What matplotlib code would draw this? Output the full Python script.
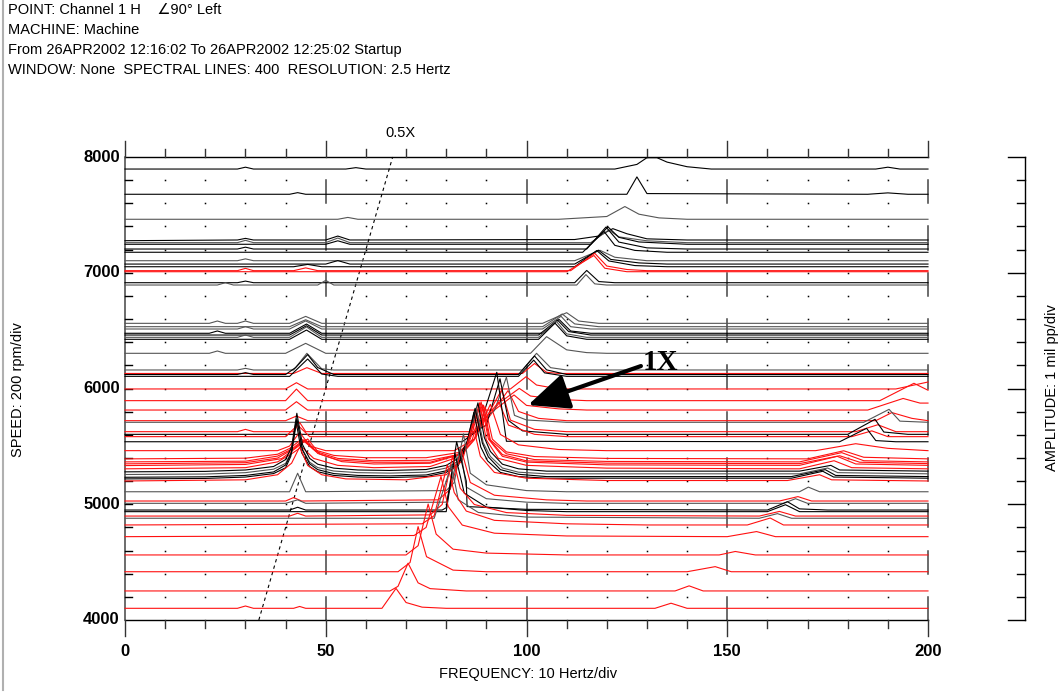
import matplotlib.pyplot as plt
import numpy as np

speeds = [7896, 7678, 7462, 7277, 7260, 7246, 7205, 7177, 7104, 7075, 7052, 7018, 7009,
          6914, 6894, 6563, 6534, 6514, 6477, 6462, 6442, 6425, 6304, 6160, 6130, 6121, 6105,
          5996, 5895, 5814, 5722, 5708, 5627, 5604, 5584, 5540, 5463,
          5382, 5356, 5339, 5324, 5296, 5276, 5253, 5229, 5215, 5195,
          5108, 5028, 5008, 4950, 4936, 4898, 4879, 4821, 4720, 4562, 4417, 4251, 4101]

colors = ['k', 'k', 'g', 'k', 'g', 'k', 'k', 'k', 'g', 'k', 'k', 'r', 'r',
          'k', 'g', 'g', 'g', 'g', 'k', 'k', 'g', 'k', 'g', 'g', 'r', 'k', 'k',
          'r', 'r', 'r', 'r', 'g', 'r', 'k', 'r', 'k', 'r',
          'r', 'r', 'r', 'r', 'r', 'k', 'g', 'k', 'k', 'r',
          'g', 'r', 'g', 'k', 'k', 'r', 'g', 'r', 'r', 'r', 'r', 'r', 'r']

spectra = [
    [(28, 0), (30, 0.08), (32, 0), (55, 0), (57.5, 0.06), (60, 0), (122, 0), (127.5, 0.2), (130, 0.49),
     (132.5, 0.49), (135, 0.3), (140, 0.1), (146, 0), (187, 0), (190, 0.08), (193, 0)],
    [(41, 0), (43, 0.07), (45, 0), (125, 0), (127.5, 0.75), (130, 0.03), (185, 0), (190, 0.06), (195, 0)],
    [(53, 0), (55.5, 0.08), (58, 0), (108, 0), (113, 0.05), (120, 0.12), (124.5, 0.55), (128, 0.22),
     (133, 0.06), (140, 0)],
    [(28, 0.03), (30, 0.1), (32, 0.03), (50, 0.03), (53, 0.2), (56, 0.03), (112, 0.05), (118, 0.2),
     (121.5, 0.52), (125, 0.3), (130, 0.08), (140, 0.03), (200, 0.03)],
    [(28, 0), (30, 0.1), (32, 0), (50, 0), (53, 0.2), (56, 0), (116, 0), (120.5, 0.55), (123, 0.25),
     (130, 0.08), (140, 0)],
    [(50, 0), (53, 0.15), (56, 0), (116, 0), (120.3, 0.75), (123, 0.3), (128, 0.1), (140, 0)],
    [(28, 0), (30, 0.08), (32, 0), (115, 0), (119.8, 0.95), (123, 0.3), (130, 0.05), (140, 0)],
    [(114, 0), (119.3, 0.9), (122, 0.3), (127, 0.08), (135, 0)],
    [(28, 0), (30, 0.08), (32, 0), (112, 0), (118.3, 0.45), (122, 0.15), (130, 0)],
    [(50, 0), (53, 0.15), (56, 0), (112, 0), (117.9, 0.6), (121, 0.2), (128, 0.05), (135, 0)],
    [(42, 0), (45.5, 0.1), (49, 0), (112, 0), (117.5, 0.7), (120.5, 0.25), (127, 0.05), (135, 0)],
    [(28, 0), (30, 0.1), (32, 0), (42, 0), (45, 0.12), (48, 0), (111, 0), (117, 0.75), (120, 0.2),
     (125, 0.05), (130, 0)],
    [(110, 0), (116.8, 0.7), (119.5, 0.15), (125, 0)],
    [(28, 0), (30, 0.07), (32, 0), (112, 0), (115, 0.53), (118, 0.05), (122, 0)],
    [(23, 0), (25, 0.1), (27, 0), (48, 0), (50, 0.2), (52, 0), (112.5, 0), (114.8, 0.45), (117, 0.05),
     (120, 0)],
    [(21, 0), (23, 0.1), (25, 0), (28, 0), (30, 0.1), (32, 0), (41, 0), (45, 0.3), (49, 0), (104, 0),
     (110, 0.46), (113, 0.1), (118, 0)],
    [(41, 0), (45, 0.3), (49, 0), (104, 0), (108.9, 0.55), (112, 0.12), (118, 0)],
    [(28, 0), (30, 0.1), (32, 0), (41, 0), (45, 0.35), (49, 0), (104, 0), (108.6, 0.55), (111, 0.1), (116, 0)],
    [(21, 0), (23, 0.1), (25, 0), (41, 0), (45.2, 0.4), (49, 0), (104, 0), (108.1, 0.6), (111, 0.1), (116, 0)],
    [(41, 0), (45.2, 0.4), (49, 0), (103, 0), (107.7, 0.65), (110.5, 0.15), (116, 0)],
    [(28, 0), (30, 0.1), (32, 0), (41, 0), (45.2, 0.45), (49, 0), (103, 0), (107.4, 0.7), (110, 0.15), (115, 0)],
    [(41, 0), (45.2, 0.4), (49, 0), (103, 0), (107.1, 0.7), (110, 0.15), (115, 0)],
    [(21, 0), (23, 0.1), (25, 0), (40, 0), (45, 0.43), (50, 0), (101, 0), (105, 0.72), (110, 0.15),
     (115, 0.03), (120, 0)],
    [(28, 0), (30, 0.07), (32, 0), (42, 0), (45.3, 0.72), (49, 0.05), (52, 0), (99, 0), (102.5, 0.72),
     (106, 0.1), (110, 0)],
    [(42, 0), (45.3, 0.25), (49, 0), (99, 0), (102, 0.43), (105, 0.05), (108, 0)],
    [(28, 0), (30, 0.08), (32, 0), (40, 0), (42.5, 0.3), (45.5, 0.86), (48, 0.3), (52, 0), (98, 0),
     (102, 0.8), (105, 0.2), (110, 0)],
    [(41, 0), (45.5, 0.75), (49, 0.1), (53, 0), (98, 0), (101.8, 0.7), (104.5, 0.15), (110, 0)],
    [(40, 0), (42.7, 0.27), (45.5, 0), (96, 0), (99.9, 0.53), (102.5, 0.17), (108, 0), (192, 0), (200, 0.3)],
    [(40, 0), (42.7, 0.5), (45.5, 0), (94, 0), (98.2, 0.53), (101, 0.2), (108, 0.05), (115, 0), (188, 0),
     (196.5, 0.75), (200, 0.45)],
    [(40, 0), (42.7, 0.36), (45.5, 0), (92, 0), (96.9, 0.65), (100, 0.2), (108, 0.05), (115, 0), (185, 0),
     (193.8, 0.5), (198, 0.3), (200, 0.3)],
    [(40, 0), (42.7, 0.2), (45.5, 0), (90, 0), (95.4, 1.3), (98, 0.4), (103, 0.1), (110, 0), (187, 0),
     (191, 0.35), (196, 0.1), (200, 0)],
    [(88, 0), (92, 0.5), (95, 1.95), (97, 0.3), (100, 0.1), (110, 0), (184, 0), (190.3, 0.56), (193, 0.05),
     (200, 0)],
    [(28, 0), (30, 0.1), (32, 0), (42, 0), (43.5, 0.4), (45, 0), (88, 0), (93.8, 1.8), (96, 0.5), (102, 0.1),
     (110, 0), (182, 0), (187.5, 0.3), (192, 0)],
    [(86, 0), (90, 0.4), (93.4, 2.4), (95.5, 0.6), (99, 0.15), (110, 0), (180, 0), (186.8, 0.65), (189, 0.1),
     (195, 0)],
    [(40, 0), (43, 0.5), (46, 0), (86, 0), (93.1, 1.5), (95.5, 0.5), (102, 0.1), (110, 0), (181, 0),
     (186, 0.25), (190, 0)],
    [(84, 0), (88, 0.5), (92.6, 3.0), (95, 0.02), (178, 0), (184.7, 0.58), (187, 0.05), (192, 0)],
    [(38, 0), (41, 0.2), (43.5, 0.8), (46, 0.2), (50, 0), (82, 0), (87, 0.5), (91, 2.0), (93.5, 0.7),
     (98, 0.25), (108, 0.05), (120, 0), (172, 0), (182, 0.3), (190, 0.1), (200, 0)],
    [(0, 0.05), (30, 0.08), (38, 0.25), (41, 0.5), (44, 0.9), (47, 0.45), (52, 0.2), (60, 0.1), (75, 0.1),
     (84, 0.35), (87.5, 1.0), (89.7, 2.3), (91.5, 0.9), (95, 0.35), (102, 0.15), (120, 0.07), (170, 0.05),
     (179, 0.4), (184, 0.12), (200, 0.05)],
    [(0, 0.05), (30, 0.08), (38, 0.3), (41.5, 0.6), (44.5, 1.0), (47.5, 0.5), (53, 0.2), (62, 0.1),
     (76, 0.12), (84, 0.4), (87, 1.0), (89.3, 2.5), (91, 1.0), (95, 0.4), (102, 0.15), (120, 0.07),
     (168, 0.05), (178.5, 0.45), (184, 0.1), (200, 0.05)],
    [(0, 0.05), (30, 0.1), (38, 0.3), (42, 0.7), (45, 1.1), (48, 0.5), (53, 0.22), (62, 0.12), (76, 0.12),
     (83, 0.45), (86.5, 1.1), (89, 2.6), (90.8, 1.1), (94, 0.45), (100, 0.18), (120, 0.08), (168, 0.06),
     (178, 0.4), (183, 0.12), (200, 0.06)],
    [(0, 0.05), (30, 0.1), (39, 0.35), (42.5, 0.8), (45.5, 1.2), (48.5, 0.55), (54, 0.22), (62, 0.12),
     (76, 0.15), (83, 0.5), (86, 1.2), (88.7, 2.8), (90.5, 1.2), (94, 0.45), (100, 0.2), (120, 0.08),
     (168, 0.06), (177.4, 0.45), (182, 0.12), (200, 0.06)],
    [(0, 0.05), (30, 0.1), (38, 0.35), (41.5, 0.7), (44, 1.0), (47, 0.5), (53, 0.2), (62, 0.1), (76, 0.15),
     (82, 0.5), (85.5, 1.2), (88.3, 2.9), (90, 1.3), (93, 0.5), (100, 0.2), (120, 0.08), (168, 0.05),
     (176.6, 0.4), (181, 0.1), (200, 0.05)],
    [(0, 0.02), (20, 0.04), (30, 0.1), (37, 0.25), (40, 0.55), (41.5, 1.1), (42.8, 2.55), (44.2, 1.2),
     (46, 0.6), (48, 0.35), (52, 0.18), (58, 0.1), (66, 0.08), (75, 0.12), (80, 0.3), (83, 0.6),
     (85.5, 1.4), (87.9, 3.0), (89.5, 1.5), (91, 0.9), (94, 0.35), (98, 0.15), (105, 0.05), (168, 0.05),
     (175.8, 0.3), (178, 0.1), (200, 0.05)],
    [(0, 0.02), (20, 0.04), (30, 0.1), (37, 0.25), (40, 0.5), (41.5, 1.0), (42.8, 2.45), (44.2, 1.1),
     (46, 0.55), (48, 0.32), (52, 0.17), (58, 0.1), (66, 0.08), (75, 0.12), (80, 0.3), (83, 0.6),
     (85.2, 1.3), (87.5, 2.9), (89.2, 1.4), (91, 0.8), (94, 0.3), (98, 0.12), (105, 0.05), (168, 0.05),
     (175, 0.3), (177.5, 0.1), (200, 0.05)],
    [(0, 0.02), (20, 0.04), (30, 0.1), (37, 0.25), (40, 0.55), (41.5, 1.1), (42.8, 2.55), (44.2, 1.2),
     (46, 0.6), (48, 0.35), (52, 0.18), (58, 0.1), (66, 0.08), (75, 0.12), (80, 0.3), (83, 0.6),
     (85, 1.4), (87.2, 3.0), (89, 1.5), (90.5, 0.9), (93.5, 0.35), (98, 0.15), (105, 0.05), (166, 0.05),
     (174.4, 0.35), (177, 0.1), (200, 0.05)],
    [(0, 0.02), (20, 0.04), (30, 0.1), (37, 0.25), (40, 0.5), (41.3, 1.0), (42.6, 2.5), (44, 1.15),
     (46, 0.55), (48, 0.33), (52, 0.17), (58, 0.1), (66, 0.08), (75, 0.12), (80, 0.3), (83, 0.6),
     (84.8, 1.3), (86.9, 2.9), (88.6, 1.4), (90.3, 0.8), (93.5, 0.3), (98, 0.12), (105, 0.05), (166, 0.05),
     (173.8, 0.35), (176.5, 0.1), (200, 0.05)],
    [(0, 0.03), (30, 0.08), (38, 0.3), (41.5, 0.8), (43.5, 1.5), (45.5, 0.7), (49, 0.3), (55, 0.12),
     (70, 0.08), (80, 0.3), (84, 0.9), (86.6, 2.5), (88.5, 1.1), (92, 0.4), (100, 0.15), (120, 0.05),
     (165, 0.05), (173, 0.3), (176, 0.08), (200, 0.03)],
    [(41, 0), (43, 0.8), (45, 0), (80, 0.05), (82, 0.4), (84.3, 2.5), (86, 0.8), (90, 0.3), (100, 0.05),
     (110, 0), (168, 0), (170.2, 0.2), (173, 0)],
    [(40, 0), (42, 0.15), (44, 0), (78, 0.05), (81, 0.5), (83.8, 2.2), (86, 0.8), (92, 0.25), (105, 0.05),
     (115, 0), (163, 0), (167.6, 0.19), (171, 0)],
    [(40, 0), (43, 0.15), (45, 0), (80, 0.05), (83.5, 2.4), (85, 0.7), (90, 0.2), (100, 0.05), (110, 0),
     (164, 0), (167, 0.2), (170, 0)],
    [(41, 0), (43, 0.12), (45, 0), (79, 0), (80, 0.1), (82.6, 2.95), (85, 1.25), (85.2, 0.15), (100, 0.03),
     (160, 0), (165, 0.36), (168, 0.05), (175, 0)],
    [(80, 0), (82.2, 2.5), (84.5, 0.8), (90, 0.2), (100, 0.05), (110, 0), (160, 0), (164.5, 0.3), (168, 0)],
    [(41, 0), (43, 0.12), (45, 0), (76, 0.05), (79, 0.5), (81.6, 2.6), (83.5, 1.2), (87, 0.5), (95, 0.15),
     (110, 0.03), (158, 0), (163, 0.2), (167, 0)],
    [(77, 0), (81.3, 2.3), (83, 0.8), (88, 0.25), (100, 0.05), (158, 0), (162.5, 0.2), (166, 0)],
    [(74, 0.05), (77, 0.4), (80.3, 2.6), (82, 1.4), (85, 0.6), (92, 0.2), (110, 0.05), (130, 0), (155, 0),
     (160.7, 0.3), (164, 0)],
    [(72, 0.05), (75, 0.4), (78.7, 2.6), (80.5, 1.3), (84, 0.5), (92, 0.15), (110, 0.03), (150, 0),
     (157.3, 0.22), (162, 0)],
    [(70, 0), (73, 0.4), (75.5, 2.2), (77.5, 0.9), (81.7, 0.25), (90, 0.08), (110, 0), (148, 0), (152, 0.15),
     (157, 0)],
    [(68, 0), (71, 0.4), (73, 1.95), (75.1, 0.65), (81.7, 0.07), (90, 0), (140, 0), (147, 0.22), (151, 0)],
    [(66, 0), (68, 0.2), (70.5, 1.2), (73, 0.35), (76, 0.1), (85, 0), (137, 0), (140.5, 0.22), (144, 0)],
    [(28, 0), (30, 0.1), (32, 0), (42, 0), (43.5, 0.08), (45, 0), (64, 0), (67.5, 0.86), (70, 0.25),
     (74, 0.05), (80, 0), (132, 0), (136, 0.22), (140, 0)],
]

speed_ticks = [4000, 5000, 6000, 7000, 8000]
freq_ticks = [0, 50, 100, 150, 200]

header = ['POINT: Channel 1 H    \u222090\u00b0 Left',
          'MACHINE: Machine',
          'From 26APR2002 12:16:02 To 26APR2002 12:25:02 Startup',
          'WINDOW: None  SPECTRAL LINES: 400  RESOLUTION: 2.5 Hertz']

W, H = 1063, 696
RPM_PER_MIL = 200          # 1 mil pp per 200 rpm division
RPM_PER_PX = 1000 / 115.75
HZ_PER_PX = 200 / 803
palette = {'k': '#000000', 'g': '#555555', 'r': '#ff1010'}
FONT = ['Liberation Sans', 'DejaVu Sans']

fig = plt.figure(figsize=(W / 100, H / 100), dpi=100)
ax = fig.add_axes([125 / W, (H - 620) / H, 803 / W, 463 / H])
ax.set_xlim(0, 200)
ax.set_ylim(4000, 8000)
ax.axis('off')

# grid dots and broken vertical lines
for f in range(10, 200, 10):
    if f % 50:
        ax.plot([f] * 19, list(range(4200, 8000, 200)), ls='none', marker='s', ms=1.1,
                color='k', mew=0, clip_on=False)
for f in [50, 100, 150, 200]:
    for r0 in range(4000, 8000, 400):
        ax.plot([f, f], [r0, r0 + 200], color='#444444', lw=1.1, clip_on=False)

# frame lines and ticks
ax.plot([0, 200], [8000, 8000], color='k', lw=1.0, clip_on=False)
ax.plot([0, 200], [4000, 4000], color='k', lw=1.0, clip_on=False)
ax.plot([0, 0], [4000, 8000], color='#444444', lw=1.1, clip_on=False)
for f in range(0, 201, 10):
    big = f % 50 == 0
    ax.plot([f, f], [8000, 8000 + (16 if big else 8) * RPM_PER_PX], color='#333333', lw=1.0, clip_on=False)
    ax.plot([f, f], [4000, 4000 - (16 if big else 8) * RPM_PER_PX], color='#333333', lw=1.0, clip_on=False)
for r in range(4200, 8000, 200):
    ax.plot([0, 7 * HZ_PER_PX], [r, r], color='k', lw=1.0, clip_on=False)

# 0.5X order line
rpm_line = np.array([4000, 8000])
ax.plot(rpm_line / 120, rpm_line, color='k', lw=0.8, ls=(0, (3, 3)), clip_on=False)

# spectra
for rpm, c, pts in zip(speeds, colors, spectra):
    f = [p[0] for p in pts]
    a = [p[1] for p in pts]
    if f[0] > 0:
        f, a = [0] + f, [0] + a
    if f[-1] < 200:
        f, a = f + [200], a + [0]
    ax.plot(f, rpm + RPM_PER_MIL * np.array(a), color=palette[c], lw=0.8, clip_on=False)

# tick labels
for r in speed_ticks:
    ax.text(-1.3, r, str(r), ha='right', va='center', fontsize=12, fontweight='bold', family=FONT)
for f in freq_ticks:
    ax.text(f, 4000 - 31 * RPM_PER_PX, str(f), ha='center', va='center', fontsize=12,
            fontweight='bold', family=FONT)

ax.text(275 / 803 * 200, 8000 + 24 * RPM_PER_PX, '0.5X', ha='center', va='center',
        fontsize=10.5, family=FONT)

# 1X annotation
ax.annotate('', xy=(100.4, 5857), xytext=(128.5, 6194),
            arrowprops=dict(arrowstyle='-|>,head_length=1.25,head_width=0.55', lw=3.0, color='k',
                            mutation_scale=20, shrinkA=0, shrinkB=0))
ax.text(129, 6160, '1X', ha='left', va='baseline', fontsize=21, fontweight='bold', family='Liberation Serif')

# header
for i, line in enumerate(header):
    fig.text(7.5 / W, 1 - (13.5 + 20.2 * i) / H, line, ha='left', va='baseline', fontsize=10.5, family=FONT)

fig.text(528 / W, 1 - 674 / H, 'FREQUENCY: 10 Hertz/div', ha='center', va='center', fontsize=10.5, family=FONT)
fig.text(18 / W, 1 - 390 / H, 'SPEED: 200 rpm/div', ha='center', va='center', rotation=90,
         fontsize=10.5, family=FONT)
fig.text(1052 / W, 1 - 388 / H, 'AMPLITUDE: 1 mil pp/div', ha='center', va='center', rotation=90,
         fontsize=10.5, family=FONT)

# amplitude ruler on the right, page border on the left
rax = fig.add_axes([0, 0, 1, 1])
rax.set_xlim(0, W)
rax.set_ylim(H, 0)
rax.axis('off')
rax.plot([1025, 1025], [157, 620], color='k', lw=1.0)
for i in range(21):
    y = 157 + i * 463 / 20
    rax.plot([1008 if i % 5 == 0 else 1017, 1025], [y, y], color='k', lw=1.0)
rax.plot([2.5, 2.5], [0, 690], color='#b0b0b0', lw=1.5)

fig.savefig('out.png', dpi=100)
